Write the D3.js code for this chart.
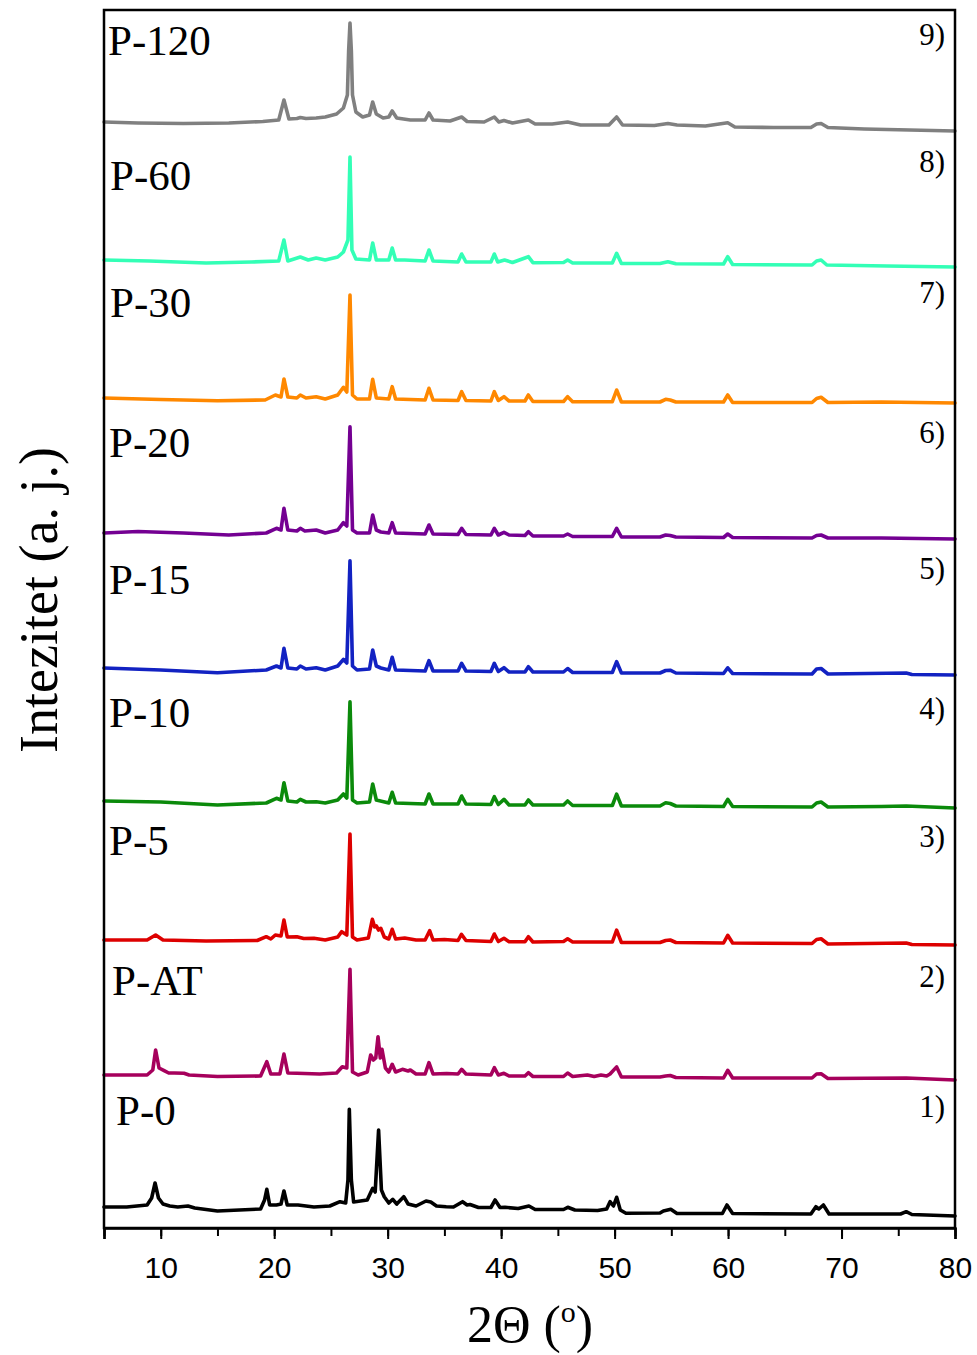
<!DOCTYPE html>
<html>
<head>
<meta charset="utf-8">
<script src="https://cdn.jsdelivr.net/npm/d3@7"></script>
<style>
  html, body { margin: 0; padding: 0; background: #fff; }
  svg { display: block; }
</style>
</head>
<body>
<svg id="chart" width="977" height="1355"></svg>
<script>
// ---------------- DATA ----------------
const sampleNames = ["P-0", "P-AT", "P-5", "P-10", "P-15", "P-20", "P-30", "P-60", "P-120"];
const sampleNumbers = ["1)", "2)", "3)", "4)", "5)", "6)", "7)", "8)", "9)"];
const sampleColors = ["#000000", "#a6005c", "#dd0000", "#0b8a0b", "#1222c2", "#740092", "#ff8800", "#33ffb6", "#808080"];
// vertical stacking offsets (a. j.)
const sampleOffsets = [12, 148, 283, 420, 553, 689, 825, 961, 1097];
const xTicks = [10, 20, 30, 40, 50, 60, 70, 80];

// [2theta, intensity]
const pattern_P0 = [[5,9],[7,9],[8.8,11],[9.2,18],[9.5,33],[9.8,18],[10.2,12],[10.8,10],[11.5,9],[12.4,10],[13,8],[15,5],[18.8,7],[19.15,16],[19.35,26.7],[19.6,11],[20.2,11],[20.6,12],[20.86,25],[21.15,11],[22.1,11],[23.5,9],[24.9,10],[25.8,14.3],[26.3,13],[26.5,36],[26.62,106.7],[26.8,36],[27,14],[28.2,16],[28.68,27.7],[28.9,24],[29.2,86],[29.45,26],[29.7,19.3],[30.1,13],[30.45,16.7],[30.8,12],[31.42,19.3],[31.8,12],[32.5,10],[33.38,15],[33.8,14],[34.3,10],[35.16,9.3],[35.8,9],[36.6,14.3],[37,11],[37.26,11.5],[38,8.5],[39.1,8.5],[39.47,16],[39.9,8.5],[40.34,8.7],[41.5,7.5],[42.45,10],[43,6.5],[45.5,6.5],[45.87,8.7],[46.5,6],[48.5,5.5],[49.3,7],[49.6,14.3],[49.9,10],[50.18,18.7],[50.5,6],[51,2.7],[54,3],[54.3,5],[54.95,6.7],[55.5,2.5],[59.5,2.5],[59.9,11],[60.4,2.5],[67.3,2],[67.74,9.3],[68,7],[68.4,11],[68.9,2],[75.2,2],[75.7,4.3],[76.2,1.5],[80,0]];
const pattern_PAT = [[5,5],[8.8,5],[9.3,10],[9.55,30],[9.85,12],[10.3,9.3],[10.7,7],[11.2,7],[12.05,6.7],[12.5,5],[15,3.5],[18.8,4],[19.35,18.3],[19.7,6],[20.5,6],[20.86,26],[21.2,7],[22,6.7],[24,6],[25.5,7],[26,13.3],[26.4,12],[26.68,110.7],[26.9,8],[27.4,5],[28.2,8],[28.5,25],[28.75,20],[28.95,22],[29.15,43.3],[29.35,22],[29.5,30.7],[29.8,12],[30.1,8],[30.4,15.7],[30.7,8],[31.3,10.7],[31.8,9],[32,10],[32.5,6],[33.3,6],[33.64,17.3],[34,6],[35.2,6.5],[36.2,6],[36.52,10.7],[36.9,6],[39.1,5],[39.4,12.3],[39.75,5],[40.25,6.7],[40.7,4],[42.1,4],[42.4,7.3],[42.8,3.5],[45.5,3.5],[45.86,7],[46.3,3.5],[47.6,5],[48.2,3.5],[48.8,5],[49.3,4],[49.6,6],[50.18,13.1],[50.6,3],[54,3],[54.5,4],[54.9,4.5],[55.4,2.5],[59.6,2],[59.97,9.7],[60.4,2],[67.4,2],[67.8,6],[68.2,6.2],[68.8,1.5],[75.7,2],[80,0]];
const pattern_P5 = [[5,5],[8.8,5],[9.55,10],[10.2,5],[14,4],[18.5,4.5],[19.3,8.3],[19.7,6],[20.1,10],[20.6,9],[20.86,25],[21.15,8],[22,8.3],[22.6,6.5],[23.5,6.7],[24.5,5],[25.6,8],[25.95,13.3],[26.4,10],[26.68,111],[26.9,8],[27.3,5],[28.3,7],[28.65,25.7],[28.85,18],[29,19],[29.2,15],[29.4,16.7],[29.7,8],[30.1,6],[30.4,15.7],[30.7,6],[31.5,7],[32.5,5],[33.3,5],[33.7,14.3],[34,5],[35,5.5],[36.2,4.5],[36.5,10.7],[36.9,4.5],[39.1,3.5],[39.4,11],[39.75,3.5],[40.25,6.7],[40.7,3.3],[42.1,3.3],[42.4,8.3],[42.8,3],[45.5,3.5],[45.86,6.2],[46.3,3],[49.8,3],[50.18,14.8],[50.6,2.5],[54,2.5],[54.5,4.5],[54.9,5],[55.4,2.5],[59.6,2],[59.97,9.7],[60.4,2],[67.4,1.5],[67.8,5.5],[68.2,6.2],[68.8,1],[75.7,2],[76.2,0.5],[80,0]];
const pattern_P10 = [[5,7],[10,6],[15,3],[19.3,5],[20.2,9.7],[20.6,8],[20.86,25.3],[21.2,7],[22,6],[22.3,8.7],[22.8,6],[23.7,6.3],[24.5,5],[25.6,8],[26.1,14],[26.4,10],[26.68,106.3],[26.9,8],[27.3,5],[28.4,6],[28.68,24],[29,8],[30.1,5],[30.4,15.7],[30.7,5],[33.3,4],[33.64,14],[34,4],[36.2,4],[36.52,12],[36.9,4],[39.1,3.5],[39.4,11.3],[39.75,3.5],[40.25,8.7],[40.7,3],[42.1,3],[42.4,8],[42.8,3],[45.5,3],[45.86,7],[46.3,2.5],[49.8,2.5],[50.18,13.8],[50.6,2],[54,2],[54.5,5.2],[54.9,4.5],[55.4,2],[59.6,1.5],[59.97,8.7],[60.4,1.5],[67.4,1],[67.8,5],[68.2,6],[68.8,1],[73.5,1.5],[75.7,2],[80,0]];
const pattern_P15 = [[5,7],[10,5],[15,2.3],[19.3,5],[20.2,9],[20.6,7],[20.86,26.7],[21.2,7],[22,6],[22.3,9],[22.8,6],[23.7,7.3],[24.5,5],[25.6,9],[26.1,15.7],[26.4,12],[26.68,114.3],[26.9,9],[27.3,5],[28.4,6],[28.68,25],[29,9],[29.4,7],[30.1,5],[30.4,17.7],[30.7,5],[33.3,4],[33.64,14.3],[34,4],[36.2,4],[36.52,11.7],[36.9,4],[39.1,3.5],[39.4,11.7],[39.75,3.5],[40.25,7.3],[40.7,3],[42.1,3],[42.4,8.3],[42.8,3],[45.5,3],[45.86,6.5],[46.3,2.5],[49.8,2.5],[50.18,13.4],[50.6,2],[54,2],[54.5,4.5],[54.9,4.8],[55.4,2],[59.6,1.5],[59.97,7.2],[60.4,1.5],[67.4,1],[67.8,6],[68.2,6.5],[68.8,1],[75.7,2],[76.2,0.5],[80,0]];
const pattern_P20 = [[5,6],[8,7.5],[12,6],[16,4],[19.3,6],[20.2,10.7],[20.6,9],[20.86,30.7],[21.2,9],[22,8],[22.3,10.7],[22.7,8],[23.7,9],[24.5,6],[25.6,9],[26.1,16.3],[26.4,13],[26.68,112.3],[26.9,9],[27.3,6],[28.4,6],[28.68,24],[29,9],[29.4,7],[30.1,6],[30.4,16.3],[30.7,6],[33.3,5],[33.64,14],[34,5],[36.2,4.5],[36.52,10.7],[36.9,4.5],[39.1,4],[39.4,10.7],[39.75,4],[40.25,6.7],[40.7,4],[42.1,3.5],[42.4,7.3],[42.8,3],[45.5,3],[45.86,5],[46.3,2.5],[49.8,2.5],[50.18,10.7],[50.6,2],[54,2],[54.5,4],[54.9,3.5],[55.4,2],[59.6,1.5],[59.97,5],[60.4,1.5],[67.4,1],[67.8,3.5],[68.2,4],[68.8,1],[73.5,1],[80,0]];
const pattern_P30 = [[5,5],[10,3.5],[15,2.3],[19.2,3],[20.1,8],[20.6,6],[20.86,24],[21.2,6],[22,5],[22.3,8],[22.8,5],[23.7,6.3],[24.5,4],[25.6,8],[26.1,15.7],[26.4,11],[26.68,108],[26.9,8],[27.3,4],[28.4,4],[28.68,23.7],[29,5],[30.1,4],[30.4,16.3],[30.7,4],[33.3,3],[33.64,14.7],[34,3],[36.2,2.5],[36.52,11.3],[36.9,2.5],[39.1,2],[39.4,11.3],[39.75,2.5],[40.25,6.3],[40.7,2],[42.1,2],[42.4,8],[42.8,1.5],[45.5,1.5],[45.86,6.3],[46.3,1.3],[49.8,1.3],[50.18,13],[50.6,1],[54,1],[54.5,3.7],[54.9,3],[55.4,1],[59.6,1],[59.97,8],[60.4,0.5],[67.4,0.5],[67.8,4.5],[68.2,5.7],[68.8,0.5],[73.5,1],[80,0]];
const pattern_P60 = [[5,7],[9,6],[14,4],[18,5],[20.4,6],[20.86,27],[21.2,6],[22.3,10],[23,7],[23.7,9],[24.5,7],[25.6,10],[26.1,15],[26.5,27],[26.68,110],[26.85,17],[27.2,8],[28.4,7],[28.68,24],[29,7],[30.1,7],[30.4,19],[30.7,7],[31.5,7],[33.3,6],[33.64,17],[34,6],[36.2,5],[36.52,13],[36.9,5],[39.1,5],[39.4,13],[39.7,5],[40.3,7],[41,4.5],[42.4,10.3],[42.8,4.3],[45.5,4.5],[45.86,7],[46.3,4],[49.8,4],[50.18,13.7],[50.6,3.5],[54,3.5],[54.7,5.3],[55.4,3.3],[59.6,3],[59.97,10.3],[60.4,2.5],[67.4,2],[67.8,6],[68.2,7],[68.7,2],[74,1],[80,0]];
const pattern_P120 = [[5,9],[8,8],[12,7.5],[16,8],[19,9.5],[20.4,11],[20.86,31],[21.3,12],[22,12.5],[22.3,13.5],[22.8,12.5],[23.7,13],[24.5,14],[25.5,17],[26.1,23],[26.45,36],[26.56,80],[26.68,108],[26.8,80],[26.9,36],[27.2,19],[27.8,14],[28.4,16],[28.68,29],[29,17],[29.6,13],[30.1,14],[30.4,20],[30.8,13],[32,11],[33.3,11],[33.64,18],[34,11],[35.5,10],[36.52,14],[37,9.5],[38.5,9],[39.4,14],[39.8,9],[40.25,10.5],[41,8],[42.4,11],[43,7],[44.5,7],[45.86,9],[47,6],[49.5,6],[50.18,14],[50.7,6],[53.5,5.5],[54.7,7.5],[55.5,6],[58,5],[59.97,8.3],[60.6,4],[64,3.5],[67.3,3.5],[67.8,7],[68.2,7.5],[68.8,3.5],[72,2],[76,1],[80,0]];

const patterns = [pattern_P0, pattern_PAT, pattern_P5, pattern_P10, pattern_P15, pattern_P20, pattern_P30, pattern_P60, pattern_P120];

// ---------------- LAYOUT ----------------
const svg = d3.select("#chart");
const plot = { left: 104, right: 955, top: 10, bottom: 1228 };
const x = d3.scaleLinear().domain([5, 80]).range([plot.left, plot.right]);
const y = d3.scaleLinear().domain([0, 1218]).range([plot.bottom, plot.top]);

// name label baselines and number label baselines (px)
const nameLabelY = [1125, 995, 855, 727, 594, 457, 317, 190, 55];
const nameLabelX = [116, 112, 109, 109, 109, 109, 110, 110, 108];
const numLabelY = [1117, 987, 847, 719, 579, 443, 303, 172, 45];

const serif = "'Liberation Serif', 'Times New Roman', serif";
const sans = "'Liberation Sans', Arial, sans-serif";

// traces
const line = d3.line().x(d => x(d[0]));
patterns.forEach((pts, i) => {
  const off = sampleOffsets[i];
  svg.append("path")
    .datum(pts)
    .attr("fill", "none")
    .attr("stroke", sampleColors[i])
    .attr("stroke-width", 3.6)
    .attr("stroke-linejoin", "round")
    .attr("stroke-linecap", "round")
    .attr("d", line.y(d => y(off + d[1])));
});

// frame
svg.append("rect")
  .attr("x", plot.left).attr("y", plot.top)
  .attr("width", plot.right - plot.left).attr("height", plot.bottom - plot.top)
  .attr("fill", "none").attr("stroke", "#000").attr("stroke-width", 2.5);

// x axis
const xAxisG = svg.append("g").attr("transform", `translate(0,${plot.bottom})`);
const minorAxis = d3.axisBottom(x).tickValues(d3.range(5, 81, 5)).tickSize(8).tickFormat("");
xAxisG.append("g").call(minorAxis).call(g => {
  g.select(".domain").remove();
  g.selectAll("line").attr("stroke", "#000").attr("stroke-width", 2);
});
const majorAxis = d3.axisBottom(x).tickValues([5].concat(xTicks)).tickSize(11).tickPadding(18)
  .tickFormat(d => xTicks.includes(d) ? String(d) : "");
xAxisG.append("g").call(majorAxis).call(g => {
  g.select(".domain").attr("stroke", "#000").attr("stroke-width", 2.5);
  g.selectAll("line").attr("stroke", "#000").attr("stroke-width", 2);
  g.selectAll("text").attr("font-family", sans).attr("font-size", 30).attr("fill", "#000");
});

// sample labels
sampleNames.forEach((nm, i) => {
  svg.append("text")
    .attr("x", nameLabelX[i]).attr("y", nameLabelY[i])
    .attr("font-family", serif).attr("font-size", 43).attr("fill", "#000")
    .text(nm);
  svg.append("text")
    .attr("x", 945).attr("y", numLabelY[i])
    .attr("text-anchor", "end")
    .attr("font-family", serif).attr("font-size", 31).attr("fill", "#000")
    .text(sampleNumbers[i]);
});

// axis titles
const xt = svg.append("text")
  .attr("x", 530).attr("y", 1342)
  .attr("text-anchor", "middle")
  .attr("font-family", serif).attr("font-size", 52).attr("fill", "#000");
xt.append("tspan").text("2Θ (");
xt.append("tspan").attr("dy", -20).attr("font-size", 30).text("o");
xt.append("tspan").attr("dy", 20).text(")");

svg.append("text")
  .attr("transform", "translate(57,600) rotate(-90)")
  .attr("text-anchor", "middle")
  .attr("font-family", serif).attr("font-size", 54).attr("fill", "#000")
  .text("Intezitet (a. j.)");
</script>
</body>
</html>
